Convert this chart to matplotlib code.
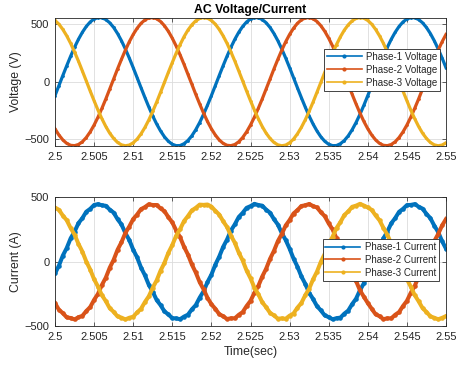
import matplotlib
matplotlib.use("Agg")
import matplotlib.pyplot as plt
from matplotlib.lines import Line2D
import numpy as np

plt.rcParams['font.family'] = ['Liberation Sans', 'DejaVu Sans']

time = np.linspace(2.5, 2.55, 101)

v_phase1 = [-122, -35, 53, 139, 222, 300, 370, 431, 482, 521, 547, 559, 558, 542, 514, 473, 420, 357, 285, 206,
            122, 35, -53, -139, -222, -300, -370, -431, -482, -521, -547, -559, -558, -542, -514, -473, -420, -357, -285, -206,
            -122, -35, 53, 139, 222, 300, 370, 431, 482, 521, 547, 559, 558, 542, 514, 473, 420, 357, 285, 206,
            122, 35, -53, -139, -222, -300, -370, -431, -482, -521, -547, -559, -558, -542, -514, -473, -420, -357, -285, -206,
            -122, -35, 53, 139, 222, 300, 370, 431, 482, 521, 547, 559, 558, 542, 514, 473, 420, 357, 285, 206, 122]
v_phase2 = [-412, -466, -509, -539, -556, -559, -549, -525, -488, -439, -379, -310, -233, -151, -64, 23, 111, 195, 275, 348,
            412, 466, 509, 539, 556, 559, 549, 525, 488, 439, 379, 310, 233, 151, 64, -23, -111, -195, -275, -348,
            -412, -466, -509, -539, -556, -559, -549, -525, -488, -439, -379, -310, -233, -151, -64, 23, 111, 195, 275, 348,
            412, 466, 509, 539, 556, 559, 549, 525, 488, 439, 379, 310, 233, 151, 64, -23, -111, -195, -275, -348,
            -412, -466, -509, -539, -556, -559, -549, -525, -488, -439, -379, -310, -233, -151, -64, 23, 111, 195, 275, 348, 412]
v_phase3 = [534, 502, 456, 400, 334, 259, 179, 93, 6, -82, -167, -249, -324, -392, -450, -496, -531, -552, -560, -554,
            -534, -502, -456, -400, -334, -259, -179, -93, -6, 82, 167, 249, 324, 392, 450, 496, 531, 552, 560, 554,
            534, 502, 456, 400, 334, 259, 179, 93, 6, -82, -167, -249, -324, -392, -450, -496, -531, -552, -560, -554,
            -534, -502, -456, -400, -334, -259, -179, -93, -6, 82, 167, 249, 324, 392, 450, 496, 531, 552, 560, 554,
            534, 502, 456, 400, 334, 259, 179, 93, 6, -82, -167, -249, -324, -392, -450, -496, -531, -552, -560, -554, -534]

i_phase1 = [-92, -31, 47, 106, 181, 233, 299, 338, 388, 410, 440, 447, 438, 434, 404, 381, 330, 289, 222, 168,
            93, 33, -46, -106, -181, -234, -298, -338, -387, -410, -439, -441, -447, -427, -412, -371, -338, -280, -230, -159,
            -101, -24, 39, 114, 172, 242, 290, 347, 379, 418, 431, 449, 440, 435, 404, 380, 330, 288, 222, 168,
            101, 24, -38, -114, -172, -242, -290, -346, -379, -418, -431, -448, -439, -435, -404, -380, -330, -288, -222, -168,
            -93, -32, 46, 106, 180, 234, 298, 338, 387, 410, 439, 441, 447, 427, 412, 371, 338, 280, 230, 159, 101]
i_phase2 = [-322, -374, -400, -433, -438, -449, -432, -421, -384, -353, -297, -250, -181, -124, -47, 14, 92, 151, 223, 273,
            331, 366, 408, 424, 446, 440, 440, 413, 392, 345, 305, 242, 189, 116, 55, -22, -84, -159, -215, -281,
            -331, -366, -408, -424, -446, -440, -440, -413, -392, -345, -305, -242, -189, -116, -55, 22, 84, 159, 215, 281,
            323, 374, 400, 432, 438, 448, 432, 421, 384, 353, 297, 250, 181, 124, 47, -14, -92, -151, -223, -273,
            -322, -366, -409, -424, -447, -440, -441, -413, -392, -345, -305, -242, -189, -116, -55, 22, 84, 159, 215, 281, 331]
i_phase3 = [420, 403, 358, 322, 261, 210, 138, 78, 1, -61, -137, -194, -261, -307, -362, -390, -426, -435, -449, -436,
            -428, -395, -366, -314, -269, -202, -146, -70, -9, 69, 129, 202, 253, 315, 354, 398, 418, 443, 441, 444,
            428, 395, 366, 314, 269, 202, 146, 70, 9, -69, -129, -202, -253, -315, -354, -398, -418, -443, -441, -444,
            -420, -403, -358, -322, -261, -210, -138, -78, -1, 61, 137, 194, 261, 307, 362, 390, 426, 435, 449, 436,
            421, 402, 359, 321, 262, 209, 139, 77, 2, -62, -136, -195, -260, -308, -361, -391, -425, -436, -448, -437, -423]

x_ticks = [2.5, 2.505, 2.51, 2.515, 2.52, 2.525, 2.53, 2.535, 2.54, 2.545, 2.55]
x_tick_labels = ['2.5', '2.505', '2.51', '2.515', '2.52', '2.525', '2.53', '2.535', '2.54', '2.545', '2.55']
y_ticks = [-500, 0, 500]
v_labels = ['Phase-1 Voltage', 'Phase-2 Voltage', 'Phase-3 Voltage']
i_labels = ['Phase-1 Current', 'Phase-2 Current', 'Phase-3 Current']
colors = ['#0072BD', '#D95319', '#EDB120']

# ---- figure ----
W, H = 467, 366
fig = plt.figure(figsize=(W / 100, H / 100), dpi=100)
ax1 = fig.add_axes([55 / W, 1 - 146 / H, 391 / W, 128.5 / H])
ax2 = fig.add_axes([55 / W, 1 - 326 / H, 391 / W, 128.7 / H])

axc = '#262626'


def style(ax):
    ax.set_xlim(2.5, 2.55)
    ax.set_xticks(x_ticks)
    ax.set_xticklabels(x_tick_labels)
    ax.set_yticks(y_ticks)
    ax.grid(True, color='#dcdcdc', linewidth=0.6)
    ax.set_axisbelow(True)
    ax.tick_params(direction='in', length=3, width=0.5, colors=axc, labelsize=8,
                   top=True, right=True, pad=4)
    for s in ax.spines.values():
        s.set_color(axc)
        s.set_linewidth(0.6)


for ys, c in zip([v_phase1, v_phase2, v_phase3], colors):
    ax1.plot(time, ys, color=c, lw=2.3, marker='.', ms=2, solid_joinstyle='round')
for ys, c in zip([i_phase1, i_phase2, i_phase3], colors):
    ax2.plot(time, ys, color=c, lw=2.9, marker='.', ms=4.5, solid_joinstyle='round')

style(ax1)
style(ax2)
vall = v_phase1 + v_phase2 + v_phase3
ax1.set_ylim(min(vall) - 2, max(vall))
ax2.set_ylim(-500, 500)

ax1.set_title('AC Voltage/Current', fontsize=8.8, fontweight='bold', color='black', pad=3)
ax1.set_ylabel('Voltage (V)', fontsize=8.8, color=axc, labelpad=2)
ax2.set_ylabel('Current (A)', fontsize=8.8, color=axc, labelpad=2)
ax2.set_xlabel('Time(sec)', fontsize=8.8, color=axc, labelpad=3)


def legend(ax, labels, anchor):
    handles = [Line2D([], [], color=c, lw=1.2, marker='.', ms=4) for c in colors]
    leg = ax.legend(handles, labels, loc='upper right', bbox_to_anchor=anchor,
                    fontsize=7, frameon=True, fancybox=False, framealpha=1,
                    edgecolor=axc, borderpad=0.3, labelspacing=0.3,
                    handlelength=3.6, handletextpad=0.45, borderaxespad=0)
    leg.get_frame().set_linewidth(0.6)
    for t in leg.get_texts():
        t.set_color(axc)


legend(ax1, v_labels, (0.985, 0.755))
legend(ax2, i_labels, (0.982, 0.676))

fig.savefig('out.png', dpi=100)
